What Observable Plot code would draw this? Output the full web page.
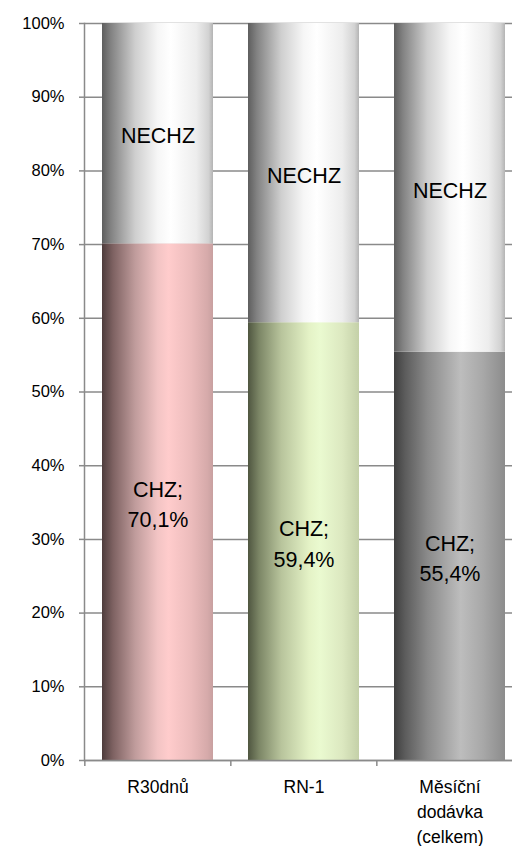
<!DOCTYPE html>
<html>
<head>
<meta charset="utf-8">
<script src="https://cdn.jsdelivr.net/npm/d3@7"></script>
<script src="https://cdn.jsdelivr.net/npm/@observablehq/plot@0.6"></script>
<style>
  html, body { margin: 0; padding: 0; background: #fff; overflow: hidden; }
  #chart { width: 512px; height: 846px; overflow: hidden; }
  #chart svg { max-width: none !important; }
</style>
</head>
<body>
<div id="chart"></div>
<script>
// ---- data ----
const categories = ["R30dnů", "RN-1", "Měsíční\ndodávka\n(celkem)"];
const chzValues = [70.1, 59.4, 55.4];
const segmentNames = ["CHZ", "NECHZ"];
const yTicks = [0, 10, 20, 30, 40, 50, 60, 70, 80, 90, 100];

// ---- styling ----
const gridColor = "#8a8a8a";
const gradients = {
  nechz: [[0, "#5e5e5e"], [0.08, "#828282"], [0.3, "#cfcfcf"], [0.5, "#f6f6f6"], [0.62, "#ffffff"], [0.85, "#ededed"], [0.96, "#d2d2d2"], [1, "#b4b4b4"]],
  chz0: [[0, "#4e3c3c"], [0.1, "#7e6262"], [0.3, "#c09c9c"], [0.5, "#f2c4c4"], [0.6, "#ffcccc"], [0.8, "#ecbcbc"], [0.95, "#d6aaaa"], [1, "#c8a0a0"]],
  chz1: [[0, "#4f5640"], [0.1, "#7c8666"], [0.3, "#b8c49c"], [0.55, "#e4f2c6"], [0.65, "#eafad0"], [0.85, "#dce8c0"], [1, "#c4d0a8"]],
  chz2: [[0, "#3e3e3e"], [0.1, "#5c5c5c"], [0.3, "#8a8a8a"], [0.6, "#bdbdbd"], [0.8, "#a8a8a8"], [1, "#8c8c8c"]]
};

const fmt = v => v.toFixed(1).replace(".", ",") + "%";

const rows = [];
const labels = [];
categories.forEach((c, i) => {
  const v = chzValues[i];
  rows.push({cat: c, seg: segmentNames[0], y1: 0, y2: v, fill: `url(#chz${i})`});
  rows.push({cat: c, seg: segmentNames[1], y1: v, y2: 100, fill: "url(#nechz)"});
  labels.push({cat: c, y: v / 2, text: `${segmentNames[0]};\n${fmt(v)}`});
  labels.push({cat: c, y: (v + 100) / 2, text: segmentNames[1]});
});

const width = 523, height = 846;
const marginLeft = 84, marginRight = 0, marginTop = 23, marginBottom = 86;
const step = (width - marginLeft - marginRight) / categories.length;

const gradDefs = () => {
  const defs = d3.create("svg:defs");
  for (const [id, stops] of Object.entries(gradients)) {
    const lg = defs.append("linearGradient").attr("id", id)
      .attr("x1", 0).attr("x2", 1).attr("y1", 0).attr("y2", 0);
    for (const [o, col] of stops) lg.append("stop").attr("offset", o).attr("stop-color", col);
  }
  return defs.node();
};

const plot = Plot.plot({
  width, height, marginLeft, marginRight, marginTop, marginBottom,
  style: {fontFamily: "'Liberation Sans', Arial, sans-serif", background: "#fff", maxWidth: "none"},
  x: {domain: categories, paddingInner: 0.237, paddingOuter: 0.1185, label: null},
  y: {domain: [0, 100], label: null},
  marks: [
    gradDefs,
    Plot.gridY(yTicks, {stroke: gridColor, strokeOpacity: 1, strokeWidth: 1.5}),
    Plot.barY(rows, {x: "cat", y1: "y1", y2: "y2", fill: "fill", inset: 0}),
    Plot.text(labels, {x: "cat", y: "y", text: "text", fontSize: 21.5, lineHeight: 1.42, fill: "#000"}),
    Plot.frame({anchor: "left", stroke: gridColor, strokeWidth: 1.5}),
    Plot.ruleY([0], {stroke: gridColor, strokeWidth: 1.5}),
    Plot.axisY(yTicks, {tickSize: 5, tickPadding: 15, tickFormat: d => d + "%", stroke: gridColor, fill: "#000", strokeWidth: 1.5, fontSize: 16.5}),
    Plot.axisX({tickSize: 6, tickFormat: null, dx: -step / 2, stroke: gridColor, strokeWidth: 1.5}),
    Plot.axisX({tickSize: 0, tickPadding: 15, fill: "#000", fontSize: 17.5, lineHeight: 1.43})
  ]
});

document.getElementById("chart").appendChild(plot);
</script>
</body>
</html>
